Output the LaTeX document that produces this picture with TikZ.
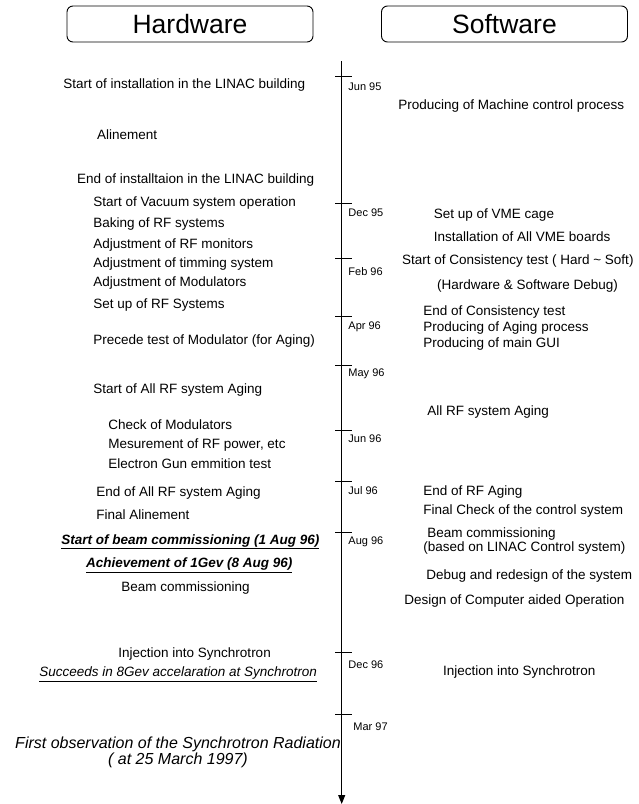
\documentclass[tikz,border=0pt]{standalone}
\usepackage{fontspec}
\setmainfont{Liberation Sans}
\usetikzlibrary{arrows.meta}

\tikzset{
  head/.style={draw, rounded corners=6pt, minimum width=246pt, minimum height=36pt,
    inner sep=0pt, font=\fontsize{26.5}{30}\selectfont},
  item/.style={anchor=west, inner sep=0pt, font=\fontsize{13.5}{16}\selectfont},
  date/.style={anchor=west, inner sep=0pt, font=\fontsize{11}{13}\selectfont},
  tick/.style={line width=0.9pt},
}

\begin{document}
\begin{tikzpicture}[x=1pt, y=-1pt, line width=0.9pt]
    \useasboundingbox (0,0) rectangle (639,804);

    % headers
    \node[head] (hard) at (190,24) {Hardware};
    \node[head] (soft) at (504.5,24) {Software};

    % time axis
    \coordinate (axtop) at (341.7,61);
    \coordinate (axend) at (341.7,804);
    \draw[-{Triangle[width=7pt,length=9pt]}] (axtop) -- (axend);
    \foreach \y/\ly/\d in {76.7/86.7/Jun 95, 203.3/212.7/Dec 95, 258.3/271.7/Feb 96,
        316.7/326.7/Apr 96, 365/374/May 96, 430/439/Jun 96, 481.7/490.7/Jul 96,
        532.7/542/Aug 96, 652.7/665/Dec 96}
    {
        \draw[tick] (335,\y) -- (351.7,\y);
        \node[date] at (348,\ly) {\d};
    }
    \draw[tick] (335,714) -- (351.7,714);
    \node[date] (mar97) at (353,726.7) {Mar 97};

    % hardware side
    \node[item] (inst)   at (63,85)    {Start of installation in the LINAC building};
    \node[item] (aline)  at (96.7,135) {Alinement};
    \node[item] (instend) at (76.7,180) {End of installtaion in the LINAC building};
    \node[item] (vac)    at (93,202.7) {Start of Vacuum system operation};
    \node[item] (bake)   at (93,224)   {Baking of RF systems};
    \node[item] (rfmon)  at (93,245)   {Adjustment of RF monitors};
    \node[item] (timing) at (93,264)   {Adjustment of timming system};
    \node[item] (modadj) at (93,282.7) {Adjustment of Modulators};
    \node[item] (rfset)  at (93,305)   {Set up of RF Systems};
    \node[item] (prec)   at (93,341)   {Precede test of Modulator (for Aging)};
    \node[item] (aging)  at (93,390)   {Start of All RF system Aging};
    \node[item] (modchk) at (108,425)  {Check of Modulators};
    \node[item] (rfpow)  at (108,445)  {Mesurement of RF power, etc};
    \node[item] (gun)    at (108,464)  {Electron Gun emmition test};
    \node[item] (agend)  at (96,493)   {End of All RF system Aging};
    \node[item] (falin)  at (96,515)   {Final Alinement};
    \node[item] (bcstart) at (61,541.7) {\underline{\textbf{\textit{Start of beam commissioning (1 Aug 96)}}}};
    \node[item] (gev)    at (85.7,565) {\underline{\textbf{\textit{Achievement of 1Gev (8 Aug 96)}}}};
    \node[item] (bc)     at (121,588) {Beam commissioning};
    \node[item] (injhw)  at (118,654)  {Injection into Synchrotron};
    \node[item] (eightgev) at (38.8,674) {\underline{\textit{Succeeds in 8Gev accelaration at Synchrotron}}};
    \node[align=center, inner sep=0pt, font=\fontsize{16}{14.5}\selectfont\itshape]
        (firstsr) at (178,752) {First observation of the Synchrotron Radiation\\( at 25 March 1997)};

    % software side
    \node[item] (mcp)    at (397.8,106) {Producing of Machine control process};
    \node[item] (vme)    at (433.5,215) {Set up of VME cage};
    \node[item] (vmeb)   at (433.5,237) {Installation of All VME boards};
    \node[item] (cons)   at (401.6,261) {Start of Consistency test ( Hard \textasciitilde{} Soft)};
    \node[item] (debug)  at (436.7,286) {(Hardware \& Software Debug)};
    \node[item] (consend) at (423,312)  {End of Consistency test};
    \node[item] (agproc) at (423,328)   {Producing of Aging process};
    \node[item] (gui)    at (423,344)   {Producing of main GUI};
    \node[item] (agsw)   at (427,412) {All RF system Aging};
    \node[item] (rfend)  at (423,492)   {End of RF Aging};
    \node[item] (fcheck) at (423,511.5) {Final Check of the control system};
    \node[item, align=left, font=\fontsize{13.5}{12}\selectfont]
        (bcsw) at (423,541) {\hspace*{4pt}Beam commissioning\\(based on LINAC Control system)};
    \node[item] (redes)  at (426,576)   {Debug and redesign of the system};
    \node[item] (cao)    at (404,601) {Design of Computer aided Operation};
    \node[item] (injsw)  at (442.7,671.7) {Injection into Synchrotron};
\end{tikzpicture}
\end{document}
